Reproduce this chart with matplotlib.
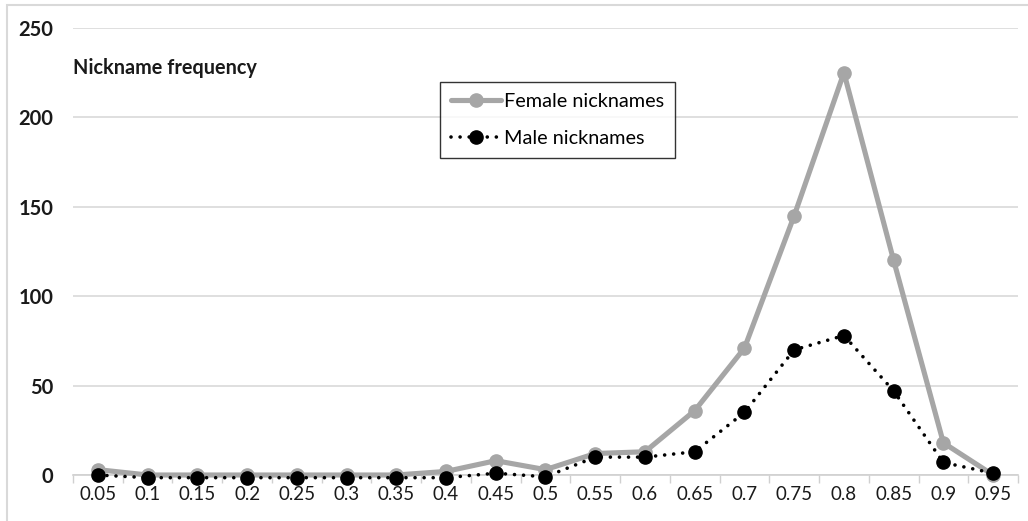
import matplotlib
matplotlib.use("Agg")
import matplotlib.pyplot as plt
from matplotlib.patches import Rectangle
import numpy as np

categories = ["0.05", "0.1", "0.15", "0.2", "0.25", "0.3", "0.35", "0.4", "0.45", "0.5",
              "0.55", "0.6", "0.65", "0.7", "0.75", "0.8", "0.85", "0.9", "0.95"]
female = [3, 0, 0, 0, 0, 0, 0, 2, 8, 3, 12, 13, 36, 71, 145, 225, 120, 18, 0]
male = [0, -1.5, -1.5, -1.5, -1.5, -1.5, -1.5, -1.5, 1, -1, 10, 10, 13, 35, 70, 78, 47, 7, 1]
yticks = [0, 50, 100, 150, 200, 250]

plt.rcParams['font.family'] = ['Lato', 'DejaVu Sans']

W, H = 1028, 521
fig = plt.figure(figsize=(W / 100, H / 100), dpi=100)
ax = fig.add_axes([73 / W, 1 - 475 / H, (1018 - 73) / W, (475 - 28) / H])

x = np.arange(len(categories))
ax.plot(x, female, color='#a6a6a6', lw=3.7, marker='o', ms=9.5,
        solid_capstyle='round', solid_joinstyle='round', label='Female nicknames',
        clip_on=False, zorder=3)
ax.plot(x, male, color='black', lw=2.6, ls=(0, (0.01, 2.5)), dash_capstyle='round',
        marker='o', ms=9.5, label='Male nicknames', clip_on=False, zorder=4)

ax.set_xlim(-0.5, len(categories) - 0.5)
ax.set_ylim(0, 250)
ax.set_xticks(x)
ax.set_xticklabels(categories, fontsize=13.5, color='#1a1a1a')
ax.set_xticks(np.arange(-0.5, len(categories)), minor=True)
ax.tick_params(axis='x', which='major', length=0, pad=8)
ax.tick_params(axis='x', which='minor', length=6, color='#d0d0d0', width=1)
ax.set_yticks(yticks)
ax.set_yticklabels([str(v) for v in yticks], fontsize=14.5, fontweight='bold', color='#1a1a1a')
ax.tick_params(axis='y', length=0, pad=14)
ax.yaxis.grid(True, color='#d9d9d9', lw=1.2)
ax.set_axisbelow(True)
for s in ['top', 'right', 'left']:
    ax.spines[s].set_visible(False)
ax.spines['bottom'].set_color('#d0d0d0')
ax.spines['bottom'].set_linewidth(1.2)

fig.text(73 / W, 1 - 68 / H, 'Nickname frequency', fontsize=14.3, fontweight='bold',
         va='center', ha='left', color='#1a1a1a')

leg = ax.legend(loc='upper left', bbox_to_anchor=(440 / W, 1 - 82 / H),
                bbox_transform=fig.transFigure, borderaxespad=0, fontsize=14.3,
                frameon=True, fancybox=False, handlelength=2.5, handletextpad=0.15,
                borderpad=0.55, labelspacing=1.0)
leg.get_frame().set_edgecolor('black')
leg.get_frame().set_linewidth(1.0)

fig.patches.append(Rectangle((7 / W, -0.1), 1.2, 1 - 5 / H + 0.1, transform=fig.transFigure,
                             fill=False, edgecolor='#d9d9d9', lw=1.5))

fig.savefig('out.png', dpi=100)
